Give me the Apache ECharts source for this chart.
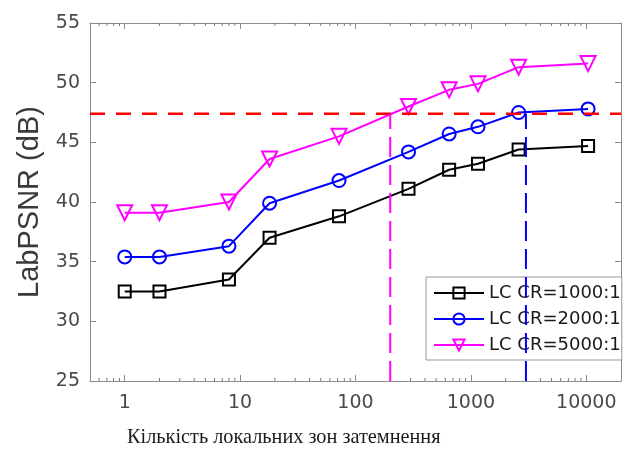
<!DOCTYPE html>
<html><head><meta charset="utf-8">
<script src="https://cdn.jsdelivr.net/npm/echarts@6/dist/echarts.min.js"></script>
<style>html,body{margin:0;padding:0;background:#fff}#c{width:638px;height:455px}</style>
</head><body><div id="c"></div>
<script>
// ---- data ----
const xValues = [1, 2, 8, 18, 72, 288, 648, 1152, 2592, 10368];
const seriesNames = ['LC CR=1000:1', 'LC CR=2000:1', 'LC CR=5000:1'];
const cr1000 = [32.5, 32.5, 33.5, 37.0, 38.8, 41.1, 42.7, 43.2, 44.4, 44.7];
const cr2000 = [35.4, 35.4, 36.3, 39.9, 41.8, 44.2, 45.7, 46.3, 47.5, 47.8];
const cr5000 = [39.1, 39.1, 40.0, 43.6, 45.5, 48.0, 49.4, 49.9, 51.3, 51.6];
const thresholdY = 47.4;
const magentaCrossX = 200;
const blueCrossX = 3000;
const xMin = 0.5, xMax = 20000;
const yMin = 25, yMax = 55, yStep = 5;
const xTickLabels = [1, 10, 100, 1000, 10000];
const xMinorTicks = [0.6, 0.7, 0.8, 0.9,
  2, 3, 4, 5, 6, 7, 8, 9,
  20, 30, 40, 50, 60, 70, 80, 90,
  200, 300, 400, 500, 600, 700, 800, 900,
  2000, 3000, 4000, 5000, 6000, 7000, 8000, 9000];
const xTitle = 'Кількість локальних зон затемнення';
const yTitle = 'LabPSNR (dB)';

// ---- styles ----
const axisGray = '#8c8c8c';
const labelGray = '#4a4a4a';
const colors = ['#000000', '#0000ff', '#ff00ff'];
const symbols = ['rect', 'circle', 'triangle'];
const symbolSizes = [12, 13, 15];
const symbolRotates = [0, 0, 180];
const values = [cr1000, cr2000, cr5000];

const pair = (xs, ys) => xs.map((x, i) => [x, ys[i]]);

const mainSeries = seriesNames.map((name, k) => ({
  name: name,
  type: 'line',
  data: pair(xValues, values[k]),
  symbol: symbols[k],
  symbolSize: symbolSizes[k],
  symbolRotate: symbolRotates[k],
  showAllSymbol: true,
  lineStyle: { color: colors[k], width: 2 },
  itemStyle: { color: 'rgba(0,0,0,0)', borderColor: colors[k], borderWidth: 2 },
  emphasis: { disabled: true },
  z: 3
}));

const dashed = (data, color, type, width) => ({
  type: 'line', data: data, symbol: 'none', silent: true,
  lineStyle: { color: color, width: width, type: type },
  emphasis: { disabled: true }, z: 4
});

const minorTickSeries = {
  type: 'custom',
  silent: true,
  clip: false,
  data: xMinorTicks.map(v => [v, yMin]),
  renderItem: function (params, api) {
    const v = api.value(0);
    const b = api.coord([v, yMin]);
    const t = api.coord([v, yMax]);
    return {
      type: 'group',
      children: [
        { type: 'line', shape: { x1: b[0], y1: b[1], x2: b[0], y2: b[1] - 3 }, style: { stroke: '#777', lineWidth: 1 } },
        { type: 'line', shape: { x1: t[0], y1: t[1], x2: t[0], y2: t[1] + 3 }, style: { stroke: '#777', lineWidth: 1 } }
      ]
    };
  },
  z: 2
};

const baseX = {
  type: 'log', logBase: 10, min: xMin, max: xMax, gridIndex: 0,
  axisLine: { show: true, onZero: false, lineStyle: { color: axisGray, width: 1 } },
  axisTick: { show: true, inside: true, length: 6, lineStyle: { color: axisGray } },
  splitLine: { show: false }, minorTick: { show: false }, minorSplitLine: { show: false }
};
const baseY = {
  type: 'value', min: yMin, max: yMax, interval: yStep, gridIndex: 0,
  axisLine: { show: true, onZero: false, lineStyle: { color: axisGray, width: 1 } },
  axisTick: { show: true, inside: true, length: 6, lineStyle: { color: axisGray } },
  splitLine: { show: false }
};

const chart = echarts.init(document.getElementById('c'), null, { renderer: 'canvas' });
chart.setOption({
  backgroundColor: '#ffffff',
  animation: false,
  title: {
    text: xTitle, left: 127, top: 428, padding: 0,
    textStyle: { fontFamily: 'Liberation Serif', fontSize: 20.3, fontWeight: 'normal', color: '#1a1a1a' }
  },
  grid: { left: 90, top: 23, right: 17, bottom: 74, containLabel: false },
  legend: {
    data: seriesNames,
    orient: 'vertical',
    left: 426, top: 277,
    padding: [6, 1, 5, 7],
    itemGap: 6, itemWidth: 50, itemHeight: 14,
    backgroundColor: '#ffffff', borderColor: '#999999', borderWidth: 1, borderRadius: 0,
    textStyle: { fontFamily: 'DejaVu Sans', fontSize: 18, lineHeight: 20, color: '#1a1a1a', padding: [0, 0, 0, 0] },
    selectedMode: false
  },
  xAxis: [
    Object.assign({}, baseX, {
      position: 'bottom',
      axisLabel: {
        show: true, margin: 13, fontFamily: 'DejaVu Sans', fontSize: 19, color: labelGray,
        showMinLabel: false, showMaxLabel: false,
        formatter: v => (xTickLabels.indexOf(Math.round(v)) >= 0 ? String(Math.round(v)) : '')
      }
    }),
    Object.assign({}, baseX, { position: 'top', axisLabel: { show: false } })
  ],
  yAxis: [
    Object.assign({}, baseY, {
      position: 'left',
      name: yTitle, nameLocation: 'middle', nameGap: 46,
      nameTextStyle: { fontFamily: 'Liberation Sans', fontSize: 29, color: '#3a3a3a' },
      axisLabel: { show: true, margin: 10, fontFamily: 'DejaVu Sans', fontSize: 19, color: labelGray }
    }),
    Object.assign({}, baseY, { position: 'right', axisLabel: { show: false } })
  ],
  series: mainSeries.concat([
    dashed([[xMin, thresholdY], [xMax, thresholdY]], '#ff0000', [15, 11], 2.5),
    dashed([[magentaCrossX, yMin], [magentaCrossX, thresholdY]], '#ff00ff', [20, 8], 2),
    dashed([[blueCrossX, yMin], [blueCrossX, thresholdY]], '#0000ff', [20, 8], 2),
    minorTickSeries
  ])
});
</script>
</body></html>
